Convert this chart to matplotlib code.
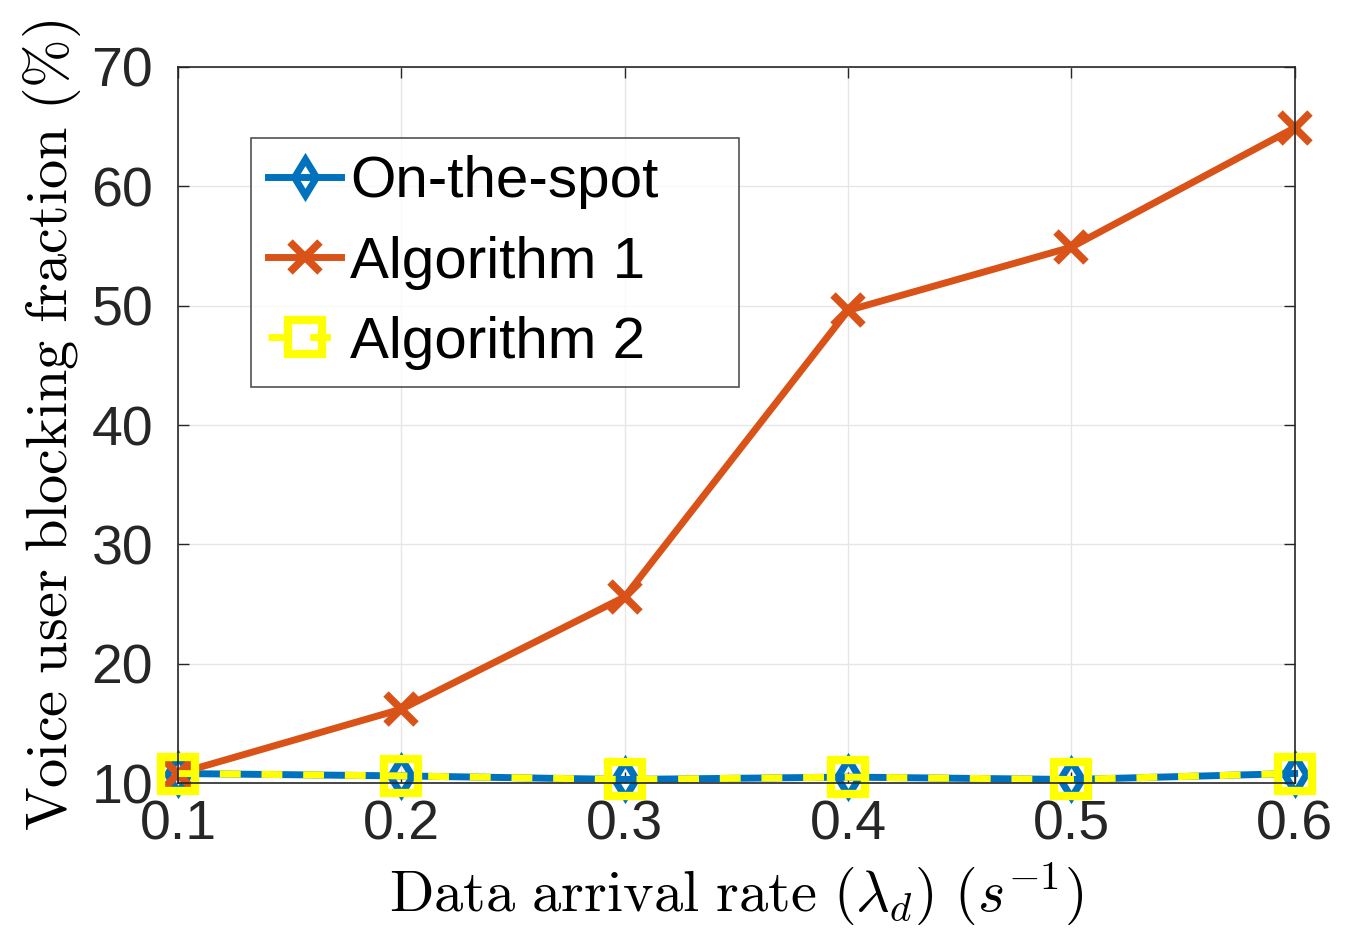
import matplotlib
matplotlib.use("Agg")
import matplotlib.pyplot as plt

# data
rates = [0.1, 0.2, 0.3, 0.4, 0.5, 0.6]
on_the_spot = [10.8, 10.6, 10.3, 10.5, 10.3, 10.8]
algorithm1 = [10.8, 16.2, 25.6, 49.6, 54.9, 64.9]
algorithm2 = [10.8, 10.6, 10.3, 10.5, 10.3, 10.8]

plt.rcParams['font.family'] = ['Liberation Sans', 'DejaVu Sans']
plt.rcParams['mathtext.fontset'] = 'cm'

fig = plt.figure(figsize=(13.5, 9.3), dpi=100)
ax = fig.add_axes([0.132, 0.158, 0.827, 0.770])

ax.plot(rates, on_the_spot, color='#0072BD', lw=5, marker='d', ms=18,
        mew=5, mfc='none', label='On-the-spot', clip_on=False)
ax.plot(rates, algorithm1, color='#D95319', lw=5, marker='x', ms=22,
        mew=5.5, label='Algorithm 1', clip_on=False)
ax.plot(rates, algorithm2, color='#FFFF00', lw=5, ls=(0, (3, 3)), marker='s',
        ms=25, mew=6, mfc='none', label='Algorithm 2', clip_on=False)

ax.set_xlim(0.1, 0.6)
ax.set_ylim(10, 70)
ax.set_xticks(rates)
ax.set_xticklabels(['0.1', '0.2', '0.3', '0.4', '0.5', '0.6'])
ax.set_yticks([10, 20, 30, 40, 50, 60, 70])
ax.tick_params(labelsize=40, direction='in', top=True, right=True,
               length=8, width=1, colors='#262626', labelcolor='#262626')
ax.tick_params(axis='x', pad=12)
ax.tick_params(axis='y', pad=18)
for sp in ax.spines.values():
    sp.set_color('#262626')
    sp.set_linewidth(1.2)
ax.grid(True, color='#e6e6e6', lw=1)
ax.set_axisbelow(True)

ax.set_xlabel(r'$\mathrm{Data\ arrival\ rate\ }(\lambda_d)\ (s^{-1})$', fontsize=42,
              labelpad=6)
ax.set_ylabel(r'$\mathrm{Voice\ user\ blocking\ fraction\ (\%)}$', fontsize=42,
              labelpad=6)

leg = ax.legend(loc='upper left', bbox_to_anchor=(0.065, 0.901, 0.437, 0.0),
                mode='expand', fontsize=42,
                frameon=True, fancybox=False, edgecolor='#262626',
                handlelength=1.25, handletextpad=0.15, borderpad=0.3,
                labelspacing=0.45, borderaxespad=0)
leg.get_frame().set_linewidth(1.2)

fig.savefig('out.png', dpi=100)
